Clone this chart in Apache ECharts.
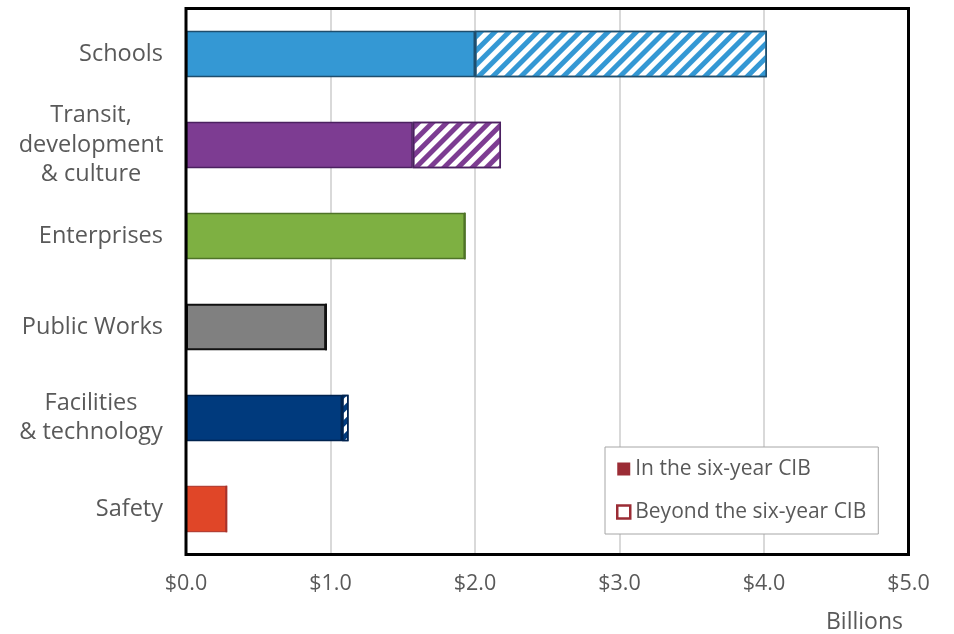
<!DOCTYPE html>
<html>
<head>
<meta charset="utf-8">
<script src="https://cdn.jsdelivr.net/npm/echarts@6/dist/echarts.min.js"></script>
<style>html,body{margin:0;padding:0;background:#fff}#c{width:954px;height:634px}</style>
</head>
<body>
<div id="c"></div>
<script>
const categories = ['Schools', 'Transit,\ndevelopment\n& culture', 'Enterprises', 'Public Works', 'Facilities\n& technology', 'Safety'];
const inCIB = [2.0, 1.57, 1.93, 0.97, 1.08, 0.28];
const beyondCIB = [2.02, 0.61, 0, 0, 0.045, 0];
const xTicks = [0, 1, 2, 3, 4, 5];
const fills = ['#3498D4', '#7D3C92', '#7EB042', '#808080', '#003A7D', '#E04628'];
const borders = ['#1E4E6E', '#4B2060', '#4F7328', '#111111', '#00234F', '#A8322A'];
const borderWidths = [1.5, 1.5, 1.5, 2, 1.5, 1];
const legendRed = '#9B2C35';
const font = 'Open Sans';

const chart = echarts.init(document.getElementById('c'));
chart.setOption({
  backgroundColor: '#fff',
  animation: false,
  textStyle: { fontFamily: font },
  title: {
    text: 'Billions', left: 821, top: 606,
    textStyle: { fontFamily: font, fontSize: 23, fontWeight: 'normal', color: '#595959' }
  },
  grid: { left: 186, right: 45.5, top: 8.5, bottom: 79.5, show: false, containLabel: false },
  graphic: [{
    type: 'rect', z: 100, silent: true,
    shape: { x: 186, y: 8.5, width: 722.5, height: 546 },
    style: { fill: 'none', stroke: '#000', lineWidth: 3 }
  }],
  xAxis: {
    type: 'value', min: xTicks[0], max: xTicks[xTicks.length - 1], interval: 1,
    axisLine: { show: false }, axisTick: { show: false },
    splitLine: { show: true, showMinLine: false, showMaxLine: false, lineStyle: { color: '#D9D9D9', width: 2 } },
    axisLabel: { margin: 18, fontSize: 21.5, color: '#595959', fontFamily: font, formatter: v => '$' + v.toFixed(1) }
  },
  yAxis: {
    type: 'category', inverse: true,
    data: categories.map(c => {
      const multi = c.indexOf('\n') >= 0;
      return multi
        ? { value: c, textStyle: { align: 'center', padding: [6, 144, 0, 0] } }
        : { value: c, textStyle: { padding: [5, 0, 0, 0] } };
    }),
    axisLine: { show: false }, axisTick: { show: false },
    axisLabel: { margin: 23, fontSize: 23.5, lineHeight: 29.5, color: '#595959', fontFamily: font }
  },
  legend: {
    orient: 'vertical', left: 605, top: 447,
    padding: [9, 12, 9, 11], itemGap: 17,
    itemWidth: 13, itemHeight: 13, itemTextGap: 5,
    borderColor: '#A6A6A6', borderWidth: 1, backgroundColor: '#fff',
    textStyle: { fontSize: 21, lineHeight: 26, color: '#595959', fontFamily: font },
    data: [
      { name: 'In the six-year CIB', icon: 'rect', itemStyle: { color: legendRed, borderWidth: 0 } },
      { name: 'Beyond the six-year CIB', icon: 'rect', itemStyle: { color: '#fff', borderColor: legendRed, borderWidth: 2.5 } }
    ]
  },
  series: [
    {
      name: 'In the six-year CIB', type: 'bar', stack: 'cib', barWidth: '51%',
      itemStyle: { color: legendRed },
      data: inCIB.map((v, i) => ({ value: v, itemStyle: { color: fills[i], borderColor: borders[i], borderWidth: borderWidths[i] } }))
    },
    {
      name: 'Beyond the six-year CIB', type: 'bar', stack: 'cib', barWidth: '51%',
      itemStyle: { color: '#fff', borderColor: legendRed },
      data: beyondCIB.map((v, i) => ({
        value: v,
        itemStyle: {
          color: '#fff', borderColor: borders[i], borderWidth: 1.5,
          decal: { symbol: 'rect', symbolSize: 1, color: fills[i], dashArrayX: [1, 0], dashArrayY: [5, 5], rotation: -Math.PI / 4 }
        }
      }))
    }
  ]
});
</script>
</body>
</html>
